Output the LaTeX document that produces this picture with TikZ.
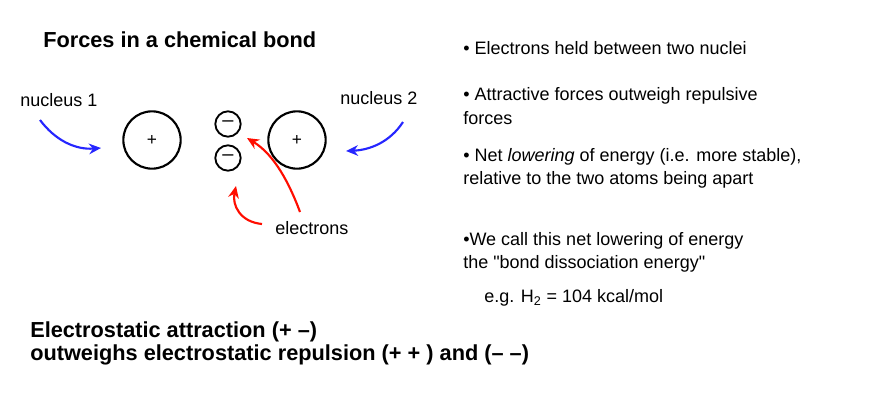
\documentclass[tikz,border=0pt]{standalone}
\usepackage{fontspec}
\setmainfont{Liberation Sans}
\newfontfamily\plainq{Liberation Sans}
\usetikzlibrary{arrows.meta}
\begin{document}
\begin{tikzpicture}[x=0.75pt,y=-0.75pt,
  txt/.style={anchor=west,inner sep=0pt,font=\fontsize{13.5}{16}\selectfont},
  btxt/.style={txt,font=\fontsize{16.3}{19}\selectfont\bfseries},
  nuc/.style={circle,draw,line width=1.6pt,minimum size=43pt,inner sep=0pt,font=\fontsize{13}{14}\selectfont},
  ele/.style={circle,draw,line width=1.4pt,minimum size=19pt,inner sep=0pt,font=\fontsize{15}{16}\selectfont},
  barr/.style={-{Stealth[length=9pt,width=8pt]},line width=1.6pt,blue!85!white},
  rarr/.style={-{Stealth[length=9pt,width=8pt]},line width=1.6pt,red!90!orange}]
\useasboundingbox (0,0) rectangle (896,404);
\node[btxt] (title) at (43,40) {Forces in a chemical bond};
\node[txt] (n1) at (20,100) {nucleus 1};
\node[txt] (n2) at (340,98) {nucleus 2};
\node[nuc] (a) at (152,140) {+};
\node[nuc] (b) at (297,140) {+};
\node[ele] (e1) at (228,124) {–};
\node[ele] (e2) at (228,158) {–};
\node[txt] (el) at (275,228) {electrons};
\coordinate (b1s) at (40,120); \coordinate (b1e) at (101,148);
\draw[barr] (b1s) .. controls (55,140) and (75,150) .. (b1e);
\coordinate (b2s) at (403,122); \coordinate (b2e) at (346,151);
\draw[barr] (b2s) .. controls (390,142) and (370,150) .. (b2e);
\coordinate (r1s) at (300,212); \coordinate (r1e) at (247,138);
\draw[rarr] (r1s) .. controls (290,185) and (275,155) .. (r1e);
\coordinate (r2s) at (262,224); \coordinate (r2e) at (236,186);
\draw[rarr] (r2s) .. controls (240,222) and (232,205) .. (r2e);
\node[txt] (t1) at (463,48) {• Electrons held between two nuclei};
\node[txt] (t2) at (463,96) {• Attractive forces outweigh repulsive};
\node[txt] (t3) at (463,118) {forces};
\node[txt] (t4) at (463,157) {• Net \textit{lowering} of energy (i.e. more stable),};
\node[txt] (t5) at (463,180) {relative to the two atoms being apart};
\node[txt] (t6) at (463,241) {•We call this net lowering of energy};
\node[txt] (t7) at (463,264) {the {\plainq"}bond dissociation energy{\plainq"}};
\node[txt] (t8) at (484,298) {e.g. H\textsubscript{2} = 104 kcal/mol};
\node[btxt] (s1) at (30,332) {Electrostatic attraction (+ –)};
\node[btxt] (s2) at (30,355) {outweighs electrostatic repulsion (+ + ) and (– –)};
\end{tikzpicture}
\end{document}
